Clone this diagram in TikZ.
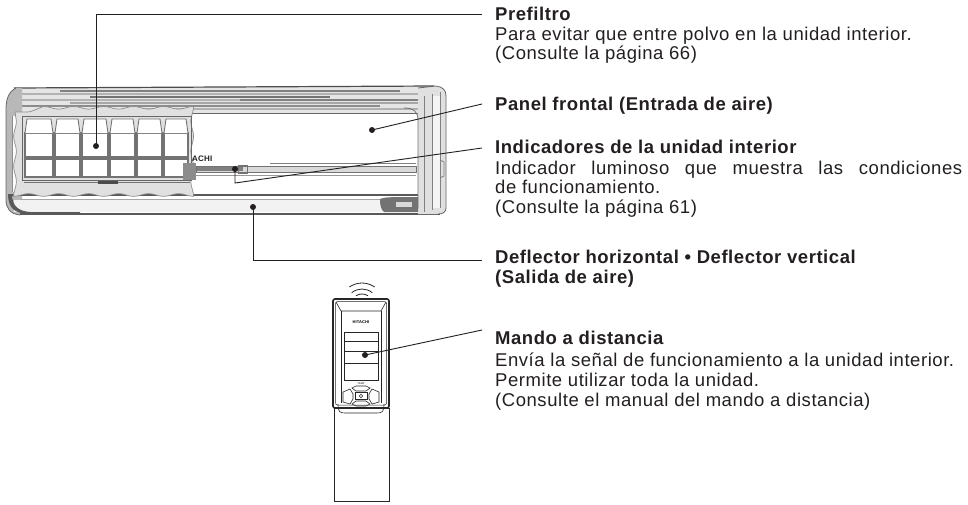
\documentclass[tikz,border=0pt]{standalone}
\usepackage{fontspec}
\setmainfont{Liberation Sans}[LetterSpace=3]
\usetikzlibrary{decorations.pathmorphing}
\definecolor{ink}{HTML}{231F20}
\begin{document}
\begin{tikzpicture}[x=1pt,y=-1pt,
  lead/.style={draw=ink, line width=0.9pt},
  dot/.style={circle, fill=ink, inner sep=0pt, minimum size=6pt},
  head/.style={anchor=base west, inner sep=0pt, text=ink, font=\fontsize{18.5}{21}\selectfont\bfseries},
  body/.style={anchor=base west, inner sep=0pt, text=ink, font=\fontsize{18.5}{21}\selectfont},
  cell/.style={draw=black!55, fill=white, line width=1.2pt},
  rc/.style={draw=black!85, line width=0.8pt}
]
\useasboundingbox (0,0) rectangle (968,504);

% ---------------- indoor unit ----------------
% top cover with ribs
\fill[black!10] (14,88) -- (434,86) -- (442,96) -- (442,113) -- (6,113) -- (7,100) -- cycle;
\draw[black!70, line width=1.2pt] (14,88) -- (434,86);
\foreach \yy/\xa/\xb/\tone in {91/60/400/50, 94/20/420/30, 97/90/330/55, 100/20/240/30, 100/240/430/50, 103/70/420/35, 106/20/380/45, 109/140/430/30}
  \draw[black!\tone, line width=1.1pt] (\xa,\yy) -- (\xb,\yy);
\draw[black!60, line width=1pt] (6,113) -- (420,113);
% front panel
\fill[white] (8,114) rectangle (418,194);
% left end cap
\fill[black!28] (16,88) .. controls (8,92) and (6,100) .. (6,110) -- (6,200) .. controls (6,208) and (10,214) .. (20,215) -- (22,215) -- (22,88) -- cycle;
\fill[white] (12,116) rectangle (22,192);
\draw[black!60, line width=0.8pt] (16,88) .. controls (8,92) and (6,100) .. (6,110) -- (6,200) .. controls (6,208) and (10,214) .. (20,215);
\draw[black!45, line width=0.6pt] (12,116) -- (12,192);
% deflector
\draw[black!65, line width=1.6pt] (8,195) -- (420,195);
\draw[black!35, line width=0.8pt] (20,199) -- (420,199);
\fill[black!5] (14,200) rectangle (420,212);
\draw[black!65, line width=1.6pt] (20,214) -- (440,214);
\fill[black!65] (8,196) .. controls (9,208) and (14,213) .. (28,214) -- (80,214) -- (80,212) -- (30,212) .. controls (18,211) and (13,206) .. (12,196) -- cycle;
% right end cap
\fill[black!12] (418,88) -- (436,86) .. controls (443,87) and (446,90) .. (446,96) -- (446,208) .. controls (446,212) and (443,214) .. (438,214) -- (418,214) -- cycle;
\fill[black!4] (432,96) rectangle (440,208);
\draw[black!60, line width=0.8pt] (418,88) -- (436,86) .. controls (443,87) and (446,90) .. (446,96) -- (446,208) .. controls (446,212) and (443,214) .. (438,214);
\draw[black!55, line width=0.8pt] (404,108) .. controls (414,108) and (418,112) .. (418,120) -- (418,208);
\draw[black!50, line width=0.7pt] (424,96) -- (424,212);
\draw[black!50, line width=0.7pt] (432,94) -- (432,210);
\draw[black!50, line width=0.7pt] (440,92) -- (440,208);
\draw[black!50, line width=0.7pt] (440,160) -- (444,162) -- (444,176) -- (440,178);
\fill[black!55] (380,199) .. controls (384,197) and (392,197) .. (418,197) -- (418,212) -- (384,212) .. controls (381,210) and (380,205) .. cycle;
\fill[black!15] (396,202) rectangle (412,207);
% indicator strip
\draw[black!50, line width=0.8pt] (270,163) -- (416,163);
\fill[black!15] (196,166) rectangle (416,172);
\fill[black!50] (196,167) rectangle (243,171);
\draw[black!55, line width=0.6pt] (196,166) rectangle (416,172);
\draw[black!55, line width=0.6pt] (238,165) rectangle (247,173);
\draw[black!40, line width=0.8pt] (196,175) -- (416,175);
% pre-filter, shown through the front panel
\fill[black!12, decorate, decoration={snake, amplitude=1.4pt, segment length=30pt}]
  (15,112) rectangle (197,193);
\draw[black!45, line width=0.7pt, decorate, decoration={snake, amplitude=1.4pt, segment length=30pt}]
  (15,112) rectangle (197,193);
\foreach \xa/\xb in {25/53, 55/80, 82/108, 110/135, 137/162, 164/188} {
  \draw[cell] (\xa,133) rectangle (\xb,157);
  \draw[cell] (\xa,159) rectangle (\xb,177);
  \draw[black!55, line width=0.9pt, fill=white] (\xa,133) -- (\xa+2,119) -- (\xb-2,119) -- (\xb,133);
}
\draw[black!60, line width=1pt] (22,116) rectangle (191,180);
\draw[black!55, line width=0.8pt] (24,182) -- (190,182);
\fill[black!70] (98,181) rectangle (118,184);
\fill[black!45] (183,163) rectangle (196,180);
\node[anchor=west, inner sep=0pt, font=\fontsize{8}{8}\selectfont\bfseries, text=ink] (logo) at (192,159) {ACHI};

% ---------------- remote control ----------------
\draw[rc, line width=1.6pt, rounded corners=2pt] (333,299) rectangle (389,408);
\draw[rc, line width=0.5pt, rounded corners=2pt] (335.5,301.5) rectangle (386.5,405);
\draw[rc, line width=0.6pt] (336,302) -- (341,311) -- (381,311) -- (386,302);
\draw[rc, line width=0.6pt] (341,311) -- (341,403);
\draw[rc, line width=0.6pt] (381,311) -- (381,403);
\node[inner sep=0pt, font=\fontsize{4}{4}\selectfont\bfseries] (brand) at (361,322) {HITACHI};
\draw[rc] (344,332) rectangle (378,380);
\draw[rc, line width=0.5pt] (344,341) -- (378,341);
\draw[rc, line width=0.5pt] (344,351) -- (378,351);
\draw[rc, line width=0.5pt] (344,363) -- (378,363);
\node[inner sep=0pt, font=\fontsize{2.5}{3}\selectfont] (temp) at (361,384) {TEMP};
\draw[rc, line width=0.6pt] (352,388) -- (356,386) -- (366,386) -- (370,388) -- (366,391) -- (356,391) -- cycle;
\draw[rc, line width=0.6pt] (352,404) -- (356,406) -- (366,406) -- (370,404) -- (366,401) -- (356,401) -- cycle;
\draw[rc, line width=0.6pt] (350,389) -- (343,392) -- (343,402) -- (350,404) -- (353,399) -- (353,394) -- cycle;
\draw[rc, line width=0.6pt] (372,389) -- (379,392) -- (379,402) -- (372,404) -- (369,399) -- (369,394) -- cycle;
\draw[rc, line width=1pt, fill=white] (355,392.5) rectangle (367,399.5);
\draw[rc, line width=0.5pt] (361,396) circle (1.8pt);
\draw[rc, line width=0.6pt] (338,404) .. controls (338,412) and (340,413) .. (345,413) -- (377,413) .. controls (382,413) and (384,412) .. (384,404);
\draw[rc, line width=1pt] (334,408) rectangle (389,501);
% signal waves
\draw[rc, line width=0.8pt] (362,305) ++(-55:22) arc (-55:-125:22);
\draw[rc, line width=0.8pt] (362,305) ++(-50:16) arc (-50:-130:16);
\draw[rc, line width=0.8pt] (362,305) ++(-57:11) arc (-57:-123:11);

% ---------------- callout points ----------------
\node[dot] (d1) at (96,146) {};
\node[dot] (d2) at (372,130) {};
\node[dot] (d3) at (235,169) {};
\node[dot] (d4) at (253,207) {};
\node[dot] (d5) at (365,355) {};

\coordinate (e1) at (482,14);
\coordinate (e2) at (482,104);
\coordinate (k3) at (235,183);
\coordinate (e3) at (482,148);
\coordinate (e4) at (482,260);
\coordinate (e5) at (482,330);

\draw[lead] (d1.center) |- (e1);
\draw[lead] (d2.center) -- (e2);
\draw[lead] (d3.center) -- (k3) -- (e3);
\draw[lead] (d4.center) |- (e4);
\draw[lead] (d5.center) -- (e5);

% ---------------- descriptions ----------------
\node[head] (t1)  at (495,20)  {Prefiltro};
\node[body] (t1a) at (495,40)  {Para evitar que entre polvo en la unidad interior.};
\node[body] (t1b) at (495,59)  {(Consulte la página 66)};
\node[head] (t2)  at (495,110) {Panel frontal (Entrada de aire)};
\node[head] (t3)  at (495,153) {Indicadores de la unidad interior};
\node[body] (t3a) at (495,174) {\makebox[467pt][s]{Indicador luminoso que muestra las condiciones}};
\node[body] (t3b) at (495,193) {de funcionamiento.};
\node[body] (t3c) at (495,213) {(Consulte la página 61)};
\node[head] (t4)  at (495,263) {Deflector horizontal • Deflector vertical};
\node[head] (t4a) at (495,283) {(Salida de aire)};
\node[head] (t5)  at (495,344) {Mando a distancia};
\node[body] (t5a) at (495,366) {Envía la señal de funcionamiento a la unidad interior.};
\node[body] (t5b) at (495,386) {Permite utilizar toda la unidad.};
\node[body] (t5c) at (495,406) {(Consulte el manual del mando a distancia)};
\end{tikzpicture}
\end{document}
